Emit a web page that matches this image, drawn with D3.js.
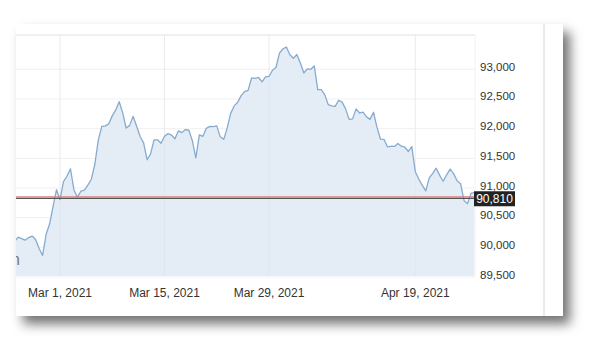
<!DOCTYPE html>
<html>
<head>
<meta charset="utf-8">
<script src="https://cdn.jsdelivr.net/npm/d3@7"></script>
<style>
body { margin: 0; background: #fff; }
text { font-family: "Liberation Sans", Arial, sans-serif; }
</style>
</head>
<body>
<div id="chart"></div>
<script>
// Trading sessions shown on the axis (Good Friday Apr 2 is skipped)
const sessions = [
    "2021-02-22", "2021-02-23", "2021-02-24", "2021-02-25", "2021-02-26",
    "2021-03-01", "2021-03-02", "2021-03-03", "2021-03-04", "2021-03-05",
    "2021-03-08", "2021-03-09", "2021-03-10", "2021-03-11", "2021-03-12",
    "2021-03-15", "2021-03-16", "2021-03-17", "2021-03-18", "2021-03-19",
    "2021-03-22", "2021-03-23", "2021-03-24", "2021-03-25", "2021-03-26",
    "2021-03-29", "2021-03-30", "2021-03-31", "2021-04-01",
    "2021-04-05", "2021-04-06", "2021-04-07", "2021-04-08", "2021-04-09",
    "2021-04-12", "2021-04-13", "2021-04-14", "2021-04-15", "2021-04-16",
    "2021-04-19", "2021-04-20", "2021-04-21", "2021-04-22", "2021-04-23",
    "2021-04-26"
];

// Three readings per session, starting with the last reading of Feb 22
const slotsPerSession = 3;
const firstSlot = 2;
const prices = [
    90102, 90173, 90148, 90121, 90165, 90190, 90131, 89980, 89862, 90215,
    90392, 90686, 90971, 90803, 91106, 91198, 91324, 90971, 90845, 90946,
    90963, 91047, 91148, 91400, 91812, 92037, 92047, 92081, 92215, 92316,
    92454, 92266, 92010, 92055, 92207, 92039, 91867, 91761, 91476, 91576,
    91812, 91812, 91753, 91871, 91916, 91892, 91829, 91963, 91933, 91985,
    91973, 91795, 91509, 91896, 91869, 92005, 92039, 92035, 92047, 91862,
    91820, 92013, 92257, 92383, 92444, 92556, 92624, 92645, 92854, 92847,
    92862, 92788, 92871, 92879, 92985, 93030, 93271, 93343, 93375, 93244,
    93187, 93249, 93106, 92938, 93008, 93000, 93055, 92659, 92657, 92573,
    92405, 92383, 92375, 92479, 92447, 92333, 92156, 92165, 92333, 92264,
    92277, 92198, 92156, 92276, 92022, 91825, 91820, 91694, 91703, 91700,
    91750, 91704, 91687, 91615, 91697, 91274, 91151, 91044, 90951, 91171,
    91245, 91333, 91212, 91114, 91222, 91319, 91242, 91121, 91072, 90787,
    90736, 90914, 90921
];

const tickSessions = ["2021-03-01", "2021-03-15", "2021-03-29", "2021-04-19"];
const yTicks = [89500, 90000, 90500, 91000, 91500, 92000, 92500, 93000];
const lastPrice = 90810;

const width = 609, height = 348;
const card = { x: 16, y: 24, w: 547, h: 292 };
const plot = { left: 16, right: 475, top: 35, bottom: 276 };

const svg = d3.select("#chart").append("svg")
    .attr("width", width)
    .attr("height", height);

const defs = svg.append("defs");
defs.append("filter")
    .attr("id", "shadow")
    .attr("x", "-10%").attr("y", "-10%")
    .attr("width", "130%").attr("height", "140%")
    .append("feDropShadow")
    .attr("dx", 7).attr("dy", 8)
    .attr("stdDeviation", 6)
    .attr("flood-color", "#000")
    .attr("flood-opacity", 0.55);

defs.append("clipPath").attr("id", "plotClip")
    .append("rect")
    .attr("x", plot.left).attr("y", plot.top)
    .attr("width", plot.right - plot.left)
    .attr("height", plot.bottom - plot.top);

defs.append("clipPath").attr("id", "cardClip")
    .append("rect")
    .attr("x", card.x).attr("y", card.y)
    .attr("width", card.w).attr("height", card.h);

// Card with shadow
svg.append("rect")
    .attr("x", card.x).attr("y", card.y)
    .attr("width", card.w).attr("height", card.h)
    .attr("fill", "#fff")
    .attr("filter", "url(#shadow)");

// Scales: x runs over session position (session index + slot fraction)
const sessionIndex = new Map(sessions.map((s, i) => [s, i]));
const xScale = d3.scaleLinear()
    .domain([sessionIndex.get("2021-03-01"), sessionIndex.get("2021-04-19")])
    .range([60, 415.3]);

const yScale = d3.scaleLinear()
    .domain([89500, 93000])
    .range([277, 69.3]);

const points = prices.map((p, j) => ({ pos: (j + firstSlot) / slotsPerSession, value: p }));

// Horizontal grid
svg.append("g")
    .selectAll("line")
    .data(yTicks)
    .enter()
    .append("line")
    .attr("x1", plot.left).attr("x2", plot.right)
    .attr("y1", d => yScale(d)).attr("y2", d => yScale(d))
    .attr("stroke", "#f0f0f0");

// Vertical grid
svg.append("g")
    .selectAll("line")
    .data(tickSessions)
    .enter()
    .append("line")
    .attr("x1", d => xScale(sessionIndex.get(d)))
    .attr("x2", d => xScale(sessionIndex.get(d)))
    .attr("y1", plot.top).attr("y2", plot.bottom)
    .attr("stroke", "#f0f0f0");

const plotG = svg.append("g").attr("clip-path", "url(#plotClip)");

const area = d3.area()
    .x(d => xScale(d.pos))
    .y0(plot.bottom)
    .y1(d => yScale(d.value));

const line = d3.line()
    .x(d => xScale(d.pos))
    .y(d => yScale(d.value));

plotG.append("path")
    .datum(points)
    .attr("d", area)
    .attr("fill", "#e4edf6");

// faint grid lines visible through the fill
plotG.append("g")
    .selectAll("line")
    .data(tickSessions)
    .enter()
    .append("line")
    .attr("x1", d => xScale(sessionIndex.get(d)))
    .attr("x2", d => xScale(sessionIndex.get(d)))
    .attr("y1", plot.top).attr("y2", plot.bottom)
    .attr("stroke", "#000")
    .attr("stroke-opacity", 0.025);

plotG.append("path")
    .datum(points)
    .attr("d", line)
    .attr("fill", "none")
    .attr("stroke", "#86abcf")
    .attr("stroke-width", 1.3)
    .attr("stroke-linejoin", "round");

// Plot frame (top and right)
svg.append("line")
    .attr("x1", plot.left).attr("x2", plot.right)
    .attr("y1", plot.top).attr("y2", plot.top)
    .attr("stroke", "#e2e2e2");
svg.append("line")
    .attr("x1", plot.right).attr("x2", plot.right)
    .attr("y1", plot.top).attr("y2", plot.bottom)
    .attr("stroke", "#f2f2f2");

// Separator on the right of the card
svg.append("line")
    .attr("x1", 544).attr("x2", 544)
    .attr("y1", card.y).attr("y2", card.y + card.h)
    .attr("stroke", "#d6d6d6");

// Last price line (red over dark gray)
const yLast = yScale(lastPrice);
svg.append("line")
    .attr("x1", plot.left).attr("x2", plot.right)
    .attr("y1", yLast - 2.3).attr("y2", yLast - 2.3)
    .attr("stroke", "#d98080")
    .attr("stroke-width", 1.2);
svg.append("line")
    .attr("x1", plot.left).attr("x2", plot.right)
    .attr("y1", yLast - 0.9).attr("y2", yLast - 0.9)
    .attr("stroke", "#555")
    .attr("stroke-width", 1.2);

// Y tick labels
svg.append("g")
    .selectAll("text")
    .data(yTicks)
    .enter()
    .append("text")
    .attr("x", 480)
    .attr("y", d => yScale(d) - 2.5)
    .attr("dy", "0.35em")
    .attr("font-size", "11.5px")
    .attr("fill", "#333")
    .text(d3.format(","));

// Last price tag
const tag = svg.append("g");
tag.append("rect")
    .attr("x", 474).attr("y", yLast - 8)
    .attr("width", 41).attr("height", 15)
    .attr("fill", "#222");
tag.append("text")
    .attr("x", 494.5).attr("y", yLast - 0.5)
    .attr("dy", "0.35em")
    .attr("text-anchor", "middle")
    .attr("font-size", "12px")
    .attr("fill", "#fff")
    .text(d3.format(",")(lastPrice));

// X tick labels
const parse = d3.timeParse("%Y-%m-%d");
const fmt = d3.timeFormat("%b %-d, %Y");
svg.append("g")
    .selectAll("text")
    .data(tickSessions)
    .enter()
    .append("text")
    .attr("x", d => xScale(sessionIndex.get(d)))
    .attr("y", 293)
    .attr("dy", "0.35em")
    .attr("text-anchor", "middle")
    .attr("font-size", "12px")
    .attr("fill", "#333")
    .text(d => fmt(parse(d)));

// cut-off glyph at the left edge of the card
svg.append("text")
    .attr("clip-path", "url(#cardClip)")
    .attr("x", 11)
    .attr("y", 265)
    .attr("font-size", "16px")
    .attr("fill", "#777")
    .text("n");
</script>
</body>
</html>
